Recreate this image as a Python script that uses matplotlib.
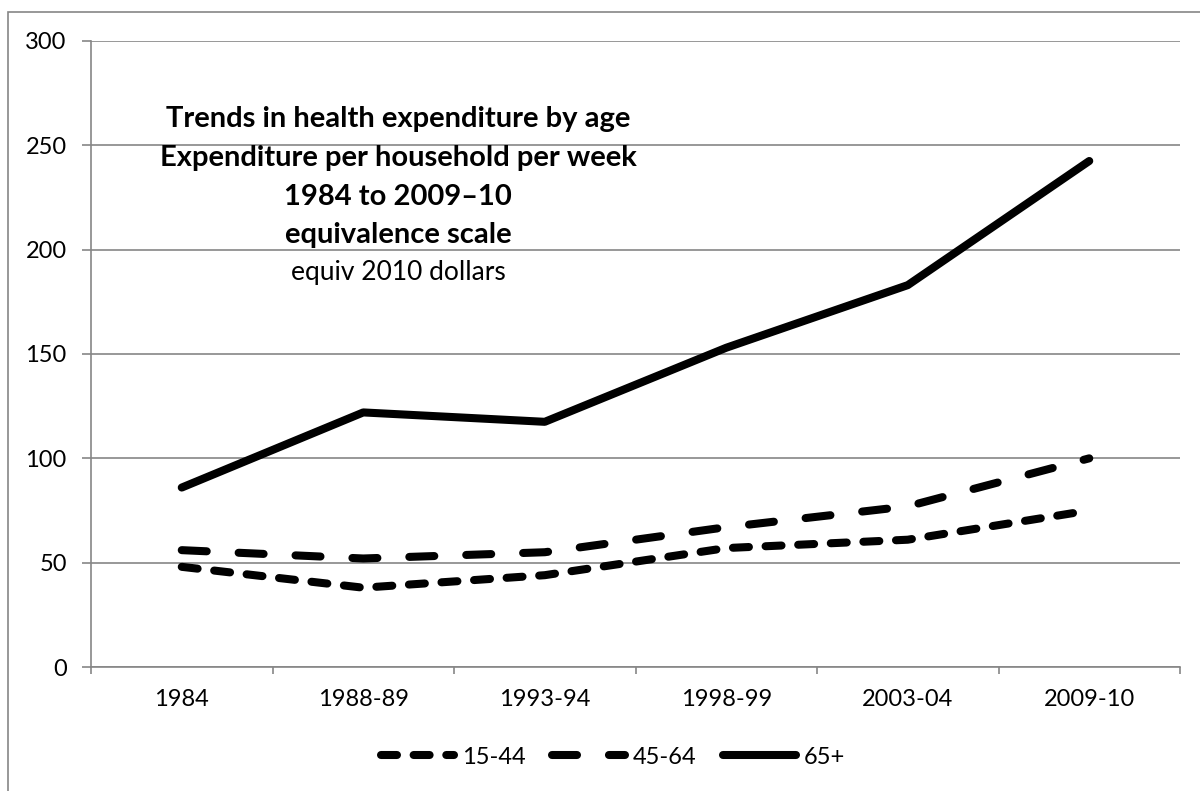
import matplotlib.pyplot as plt
import matplotlib.patches as mpatches
from matplotlib.ticker import FixedLocator, NullFormatter
import numpy as np

plt.rcParams['font.family'] = ['Lato', 'DejaVu Sans']
plt.rcParams['lines.scale_dashes'] = False

## data
periods = ['1984', '1988-89', '1993-94', '1998-99', '2003-04', '2009-10']
age_15_44 = [48, 38, 44, 57, 61, 75]
age_45_64 = [56, 52, 55, 67, 77, 100]
age_65_plus = [86, 122, 117.5, 153, 183, 242.5]
y_ticks = [0, 50, 100, 150, 200, 250, 300]

grey = '#868686'

fig = plt.figure(figsize=(12, 7.91), dpi=100)
ax = fig.add_axes([91 / 1200, 1 - 667 / 791, (1180 - 91) / 1200, (667 - 41) / 791])

# outer chart frame (runs off the right / bottom of the image)
frame = mpatches.Rectangle((8 / 1200, -0.05), 1.1, 1 - 12 / 791 + 0.05,
                           transform=fig.transFigure, fill=False,
                           edgecolor=grey, lw=1.2, clip_on=False)
fig.patches.append(frame)

x = np.arange(len(periods)) + 0.5
ax.plot(x, age_15_44, color='black', lw=5.8, dashes=(11.5, 12),
        dash_capstyle='round', solid_capstyle='round', label='15-44')
ax.plot(x, age_45_64, color='black', lw=5.8, dashes=(18, 23),
        dash_capstyle='round', solid_capstyle='round', label='45-64')
ax.plot(x, age_65_plus, color='black', lw=5.8,
        solid_capstyle='round', solid_joinstyle='round', label='65+')

ax.set_xlim(0, len(periods))
ax.set_ylim(0, 300)
ax.set_yticks(y_ticks)
ax.set_yticklabels([str(v) for v in y_ticks], fontsize=17)
ax.yaxis.grid(True, color=grey, lw=1.2)
ax.set_axisbelow(True)

ax.set_xticks(x)
ax.set_xticklabels(periods, fontsize=17)
ax.xaxis.set_minor_locator(FixedLocator(np.arange(len(periods) + 1)))
ax.xaxis.set_minor_formatter(NullFormatter())
ax.tick_params(axis='x', which='major', length=0, pad=16)
ax.tick_params(axis='x', which='minor', length=5, width=1.2, color=grey, direction='out')
ax.tick_params(axis='y', length=6.5, width=1.2, color=grey, direction='out', pad=11)

for side in ['top', 'right']:
    ax.spines[side].set_visible(False)
for side in ['left', 'bottom']:
    ax.spines[side].set_color(grey)
    ax.spines[side].set_linewidth(1.2)

## title block
title_lines = ['Trends in health expenditure by age',
               'Expenditure per household per week',
               '1984 to 2009\u201310',
               'equivalence scale']
baselines = [127, 166, 205, 243]
for t, yy in zip(title_lines, baselines):
    fig.text(398 / 1200, 1 - yy / 791, t, ha='center', va='baseline',
             fontsize=21, fontweight='bold')
fig.text(398 / 1200, 1 - 280 / 791, 'equiv 2010 dollars', ha='center',
         va='baseline', fontsize=19)

fig.legend(loc='center', bbox_to_anchor=(613 / 1200, 1 - 757 / 791), ncol=3,
           frameon=False, fontsize=17, handlelength=3.1, handletextpad=0.35,
           columnspacing=1.1)

fig.savefig('out.png', dpi=100)
